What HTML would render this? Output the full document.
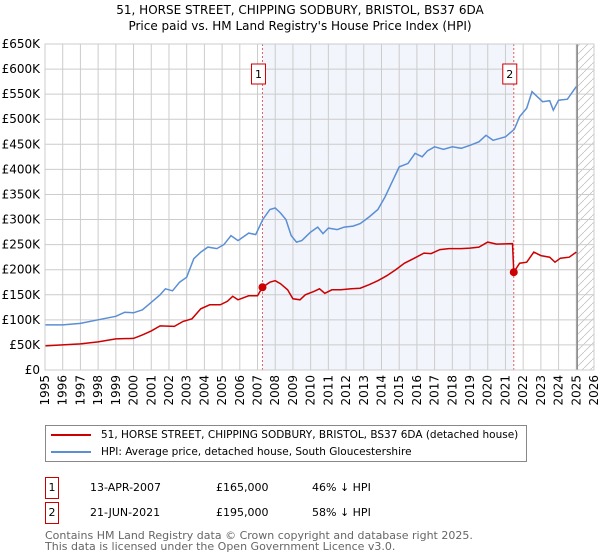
<!DOCTYPE html>
<html><head><meta charset="utf-8"><style>
body{margin:0;background:#fff;font-family:"Liberation Sans","DejaVu Sans",sans-serif;}
#wrap{position:relative;width:600px;height:560px;overflow:hidden;}
.t{position:absolute;font-size:12px;color:#000;white-space:nowrap;}
</style></head><body><div id="wrap">
<div class="t" style="left:0;width:600px;text-align:center;top:2px;font-family:'DejaVu Sans',sans-serif;font-size:12px;line-height:16px">51, HORSE STREET, CHIPPING SODBURY, BRISTOL, BS37 6DA<br>Price paid vs. HM Land Registry's House Price Index (HPI)</div>
<svg id="c" width="600" height="420" style="position:absolute;left:0;top:0"></svg>
<div style="position:absolute;left:45px;top:425px;width:480px;height:35px;border:1px solid #888;font-family:'DejaVu Sans',sans-serif;font-size:10.5px;white-space:nowrap">
<div style="position:absolute;left:5px;top:3px;white-space:nowrap"><span style="display:inline-block;width:40px;height:2px;background:#cc0000;vertical-align:middle;margin-right:10px"></span>51, HORSE STREET, CHIPPING SODBURY, BRISTOL, BS37 6DA (detached house)</div>
<div style="position:absolute;left:5px;top:20px;white-space:nowrap"><span style="display:inline-block;width:40px;height:2px;background:#5b8fd4;vertical-align:middle;margin-right:10px"></span>HPI: Average price, detached house, South Gloucestershire</div>
</div>
<div style="position:absolute;left:45px;top:477px;font-family:'DejaVu Sans',sans-serif;font-size:11px">
<span style="position:absolute;left:0;top:0;width:12px;height:20px;border:1px solid #cc0000;text-align:center;line-height:20px">1</span>
<span style="position:absolute;left:45px;top:4px;white-space:nowrap">13-APR-2007</span>
<span style="position:absolute;left:171px;top:4px;white-space:nowrap">£165,000</span>
<span style="position:absolute;left:267px;top:4px;white-space:nowrap">46% ↓ HPI</span></div>
<div style="position:absolute;left:45px;top:502px;font-family:'DejaVu Sans',sans-serif;font-size:11px">
<span style="position:absolute;left:0;top:0;width:12px;height:20px;border:1px solid #cc0000;text-align:center;line-height:20px">2</span>
<span style="position:absolute;left:45px;top:4px;white-space:nowrap">21-JUN-2021</span>
<span style="position:absolute;left:171px;top:4px;white-space:nowrap">£195,000</span>
<span style="position:absolute;left:267px;top:4px;white-space:nowrap">58% ↓ HPI</span></div>
<div style="position:absolute;left:45px;top:530px;font-family:'DejaVu Sans',sans-serif;font-size:11px;color:#666;line-height:11px">Contains HM Land Registry data © Crown copyright and database right 2025.<br>This data is licensed under the Open Government Licence v3.0.</div>
</div>
<script>
const hpiYears=[1995,1996,1997,1998,1999,1999.5,2000,2000.5,2001,2001.5,2001.8,2002.2,2002.6,2003,2003.4,2003.8,2004.2,2004.7,2005.1,2005.5,2005.9,2006.5,2006.9,2007.3,2007.7,2008,2008.3,2008.6,2008.9,2009.2,2009.5,2010,2010.4,2010.7,2011,2011.5,2011.9,2012.4,2012.8,2013.3,2013.8,2014.2,2014.6,2015,2015.5,2015.9,2016.3,2016.6,2017,2017.5,2018,2018.5,2019,2019.5,2019.9,2020.3,2020.7,2021,2021.5,2021.8,2022.2,2022.5,2022.8,2023.1,2023.5,2023.7,2024,2024.5,2025];
const hpiValues=[90,90,93,100,107,115,114,120,135,150,162,158,175,185,222,235,245,242,250,268,258,273,270,300,320,323,313,300,268,255,258,275,285,272,283,280,285,287,292,305,320,345,375,405,412,432,425,437,445,440,445,442,448,455,468,458,462,465,480,505,522,555,545,535,537,518,538,540,565];
const ppYears=[1995,1997,1998,1999,2000,2000.5,2001,2001.5,2002.3,2002.8,2003.3,2003.8,2004.3,2004.9,2005.3,2005.6,2005.9,2006.5,2007,2007.28,2007.7,2008,2008.3,2008.7,2009,2009.4,2009.7,2010.2,2010.5,2010.8,2011.2,2011.7,2012.3,2012.8,2013.3,2013.8,2014.3,2014.8,2015.3,2015.8,2016.4,2016.8,2017.3,2017.8,2018.5,2019,2019.5,2020,2020.5,2021.4,2021.47,2021.8,2022.2,2022.6,2023,2023.5,2023.8,2024.1,2024.6,2025];
const ppValues=[48,52,56,62,63,70,78,88,87,97,102,122,130,130,137,147,140,148,148,165,175,178,172,160,142,140,150,157,162,153,160,160,162,163,170,178,188,200,213,222,233,232,240,242,242,243,245,255,251,252,195,213,215,235,228,225,215,223,225,235];
const saleYears=[2007.28,2021.47];
const saleValues=[165,195];
const yTicks=[0,50,100,150,200,250,300,350,400,450,500,550,600,650];
const xTicks=[1995,1996,1997,1998,1999,2000,2001,2002,2003,2004,2005,2006,2007,2008,2009,2010,2011,2012,2013,2014,2015,2016,2017,2018,2019,2020,2021,2022,2023,2024,2025,2026];
const X0=45,X1=594,Y0=370,Y1=44,dataEnd=2025.05;
const xs=y=>X0+(y-1995)/(2026-1995)*(X1-X0);
const ys=v=>Y0-v/650*(Y0-Y1);
const svg=document.getElementById('c');const NS='http://www.w3.org/2000/svg';
function mk(t,a){const e=document.createElementNS(NS,t);for(const k in a)e.setAttribute(k,a[k]);svg.appendChild(e);return e;}
let e;
e=mk('rect',{x:xs(saleYears[0]),y:Y1,width:xs(saleYears[1])-xs(saleYears[0]),height:Y0-Y1,fill:'#f2f5fc'});


const defs=document.createElementNS(NS,'defs');defs.innerHTML='<pattern id="h" width="8" height="8" patternUnits="userSpaceOnUse"><path d="M0,8 L8,0" stroke="#bbb" stroke-width="0.7"/></pattern>';svg.appendChild(defs);
e=mk('rect',{x:xs(dataEnd),y:Y1,width:X1-xs(dataEnd),height:Y0-Y1,fill:'url(#h)'});


yTicks.forEach(v=>{
 e=mk('line',{x1:X0,x2:X1,y1:ys(v),y2:ys(v),stroke:'#ccc','stroke-width':1});
 
 
 e=mk('text',{x:40,y:ys(v)+4,'text-anchor':'end','font-size':12,'font-family':'DejaVu Sans,sans-serif'});
 e.textContent=v===0?'£0':'£'+v+'K';
 
 
});
xTicks.forEach(y=>{
 e=mk('line',{x1:xs(y),x2:xs(y),y1:Y1,y2:Y0,stroke:'#ccc','stroke-width':1});
 
 
 e=mk('text',{x:0,y:0,'font-size':12,'font-family':'DejaVu Sans,sans-serif','text-anchor':'end',transform:`translate(${xs(y)+4},375) rotate(-90)`});
 e.textContent=y;
 
 
});
e=mk('line',{x1:xs(dataEnd),x2:xs(dataEnd),y1:Y1,y2:Y0,stroke:'#888','stroke-width':1.5});


saleYears.forEach((y,i)=>{
 e=mk('line',{x1:xs(y),x2:xs(y),y1:Y1,y2:Y0,stroke:'#e06060','stroke-width':1,'stroke-dasharray':'2,2'});
 
 
 e=mk('rect',{x:xs(y)-11,y:64,width:14,height:20,fill:'#fff',stroke:'#cc0000'});
 
 
 e=mk('text',{x:xs(y)-4,y:78,'text-anchor':'middle','font-size':11,'font-family':'DejaVu Sans,sans-serif'});
 e.textContent=String(i+1);
 
 
});
e=mk('path',{d:hpiYears.map((y,i)=>(i?'L':'M')+xs(y).toFixed(1)+','+ys(hpiValues[i]).toFixed(1)).join(''),fill:'none',stroke:'#5b8fd4','stroke-width':1.5});


e=mk('path',{d:ppYears.map((y,i)=>(i?'L':'M')+xs(y).toFixed(1)+','+ys(ppValues[i]).toFixed(1)).join(''),fill:'none',stroke:'#cc0000','stroke-width':1.5});


saleYears.forEach((y,i)=>{
 e=mk('circle',{cx:xs(y),cy:ys(saleValues[i]),r:4,fill:'#cc0000'});
 
 
});
e=mk('rect',{x:X0,y:Y1,width:X1-X0,height:Y0-Y1,fill:'none',stroke:'#ccc'});


</script>
</body></html>
